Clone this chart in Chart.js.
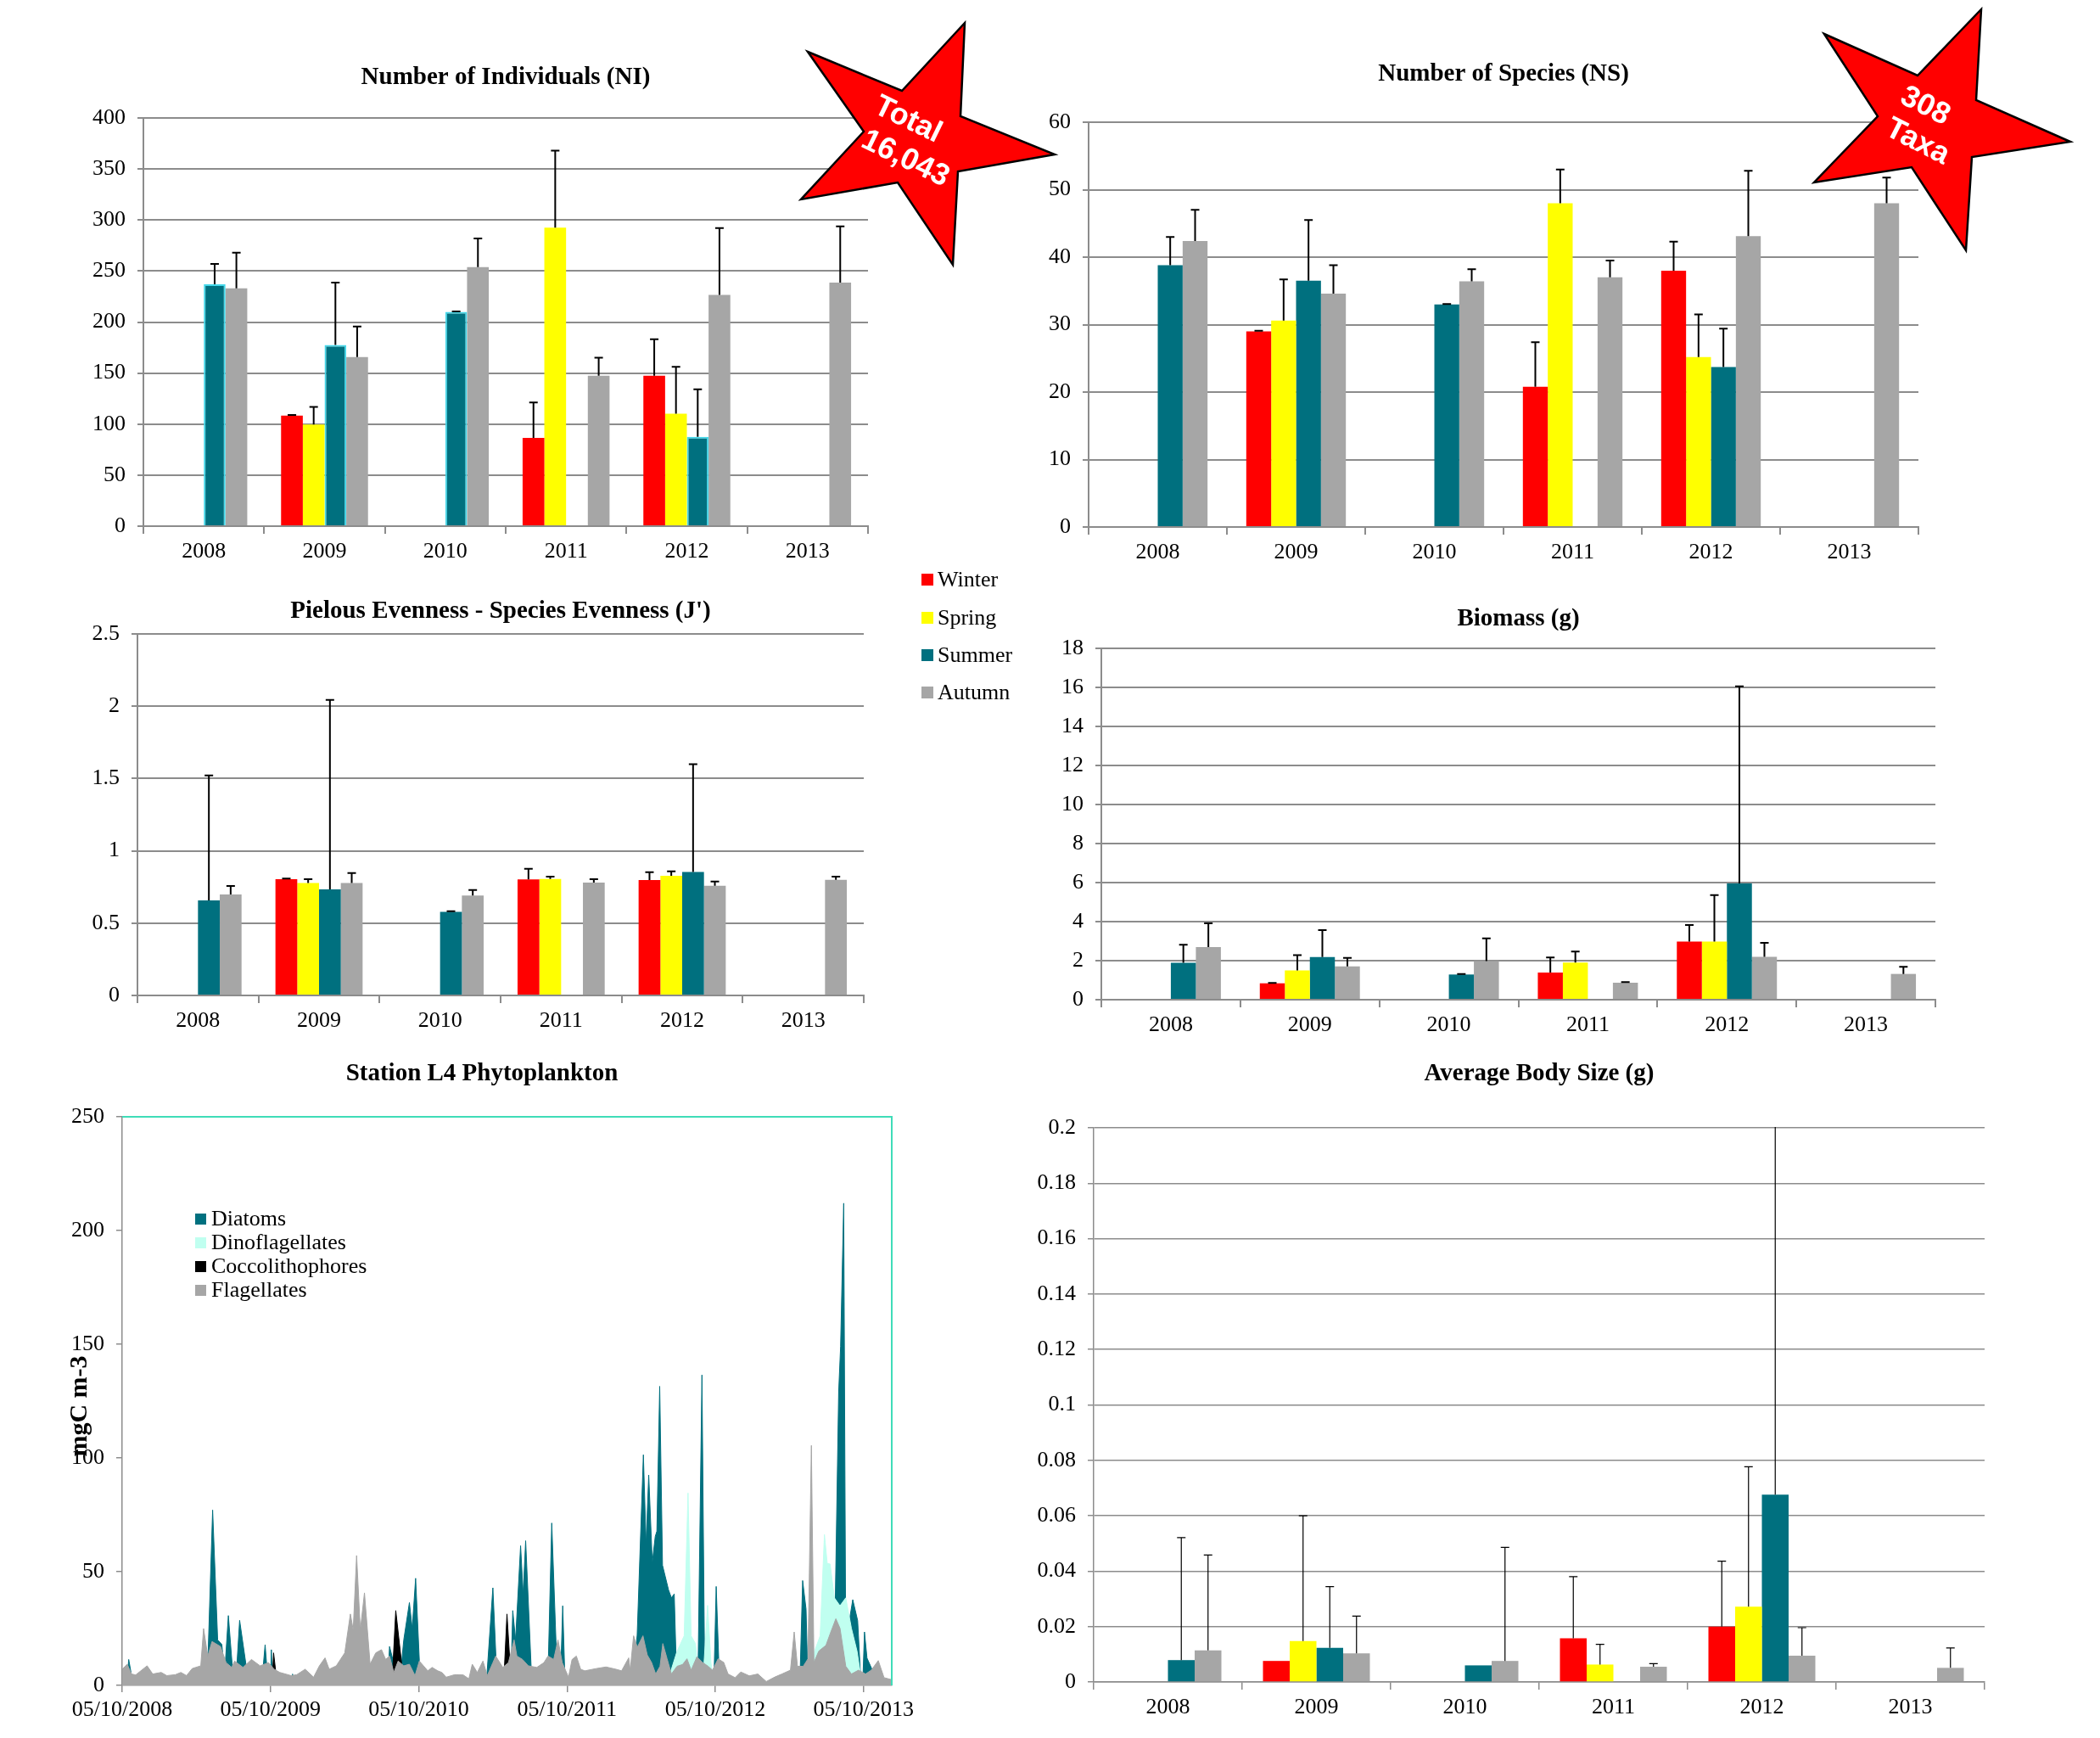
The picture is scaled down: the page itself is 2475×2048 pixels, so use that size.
<!DOCTYPE html>
<html lang="en">
<head>
<meta charset="UTF-8">
<title>Station L4 - benthic indices 2008-2013</title>
<script src="https://cdn.jsdelivr.net/npm/chart.js"></script>
<style>
    body {
        margin: 0;
        background: #fff;
        font-family: "Liberation Serif", "Times New Roman", serif;
    }

    #page {
        position: relative;
        width: 2475px;
        height: 2048px;
        overflow: hidden;
        background: #fff;
    }

    canvas {
        position: absolute;
    }

    /* legends and labels sit above the canvases */
    .legend {
        position: absolute;
        z-index: 5;
        font-size: 26px;
        color: #000;
    }

    .legend .row {
        display: flex;
        align-items: center;
        white-space: nowrap;
    }

    .legend .sw {
        display: inline-block;
        flex: none;
    }

    #seasonLegend .row { height: 44.4px; }
    #seasonLegend .sw { width: 14px; height: 14px; margin-right: 5px; }

    #phytoLegend .row { height: 28px; }
    #phytoLegend .sw { width: 13px; height: 13px; margin-right: 6px; }

    #phytoYTitle {
        position: absolute;
        z-index: 5;
        left: 92px;
        top: 1657px;
        transform: translate(-50%, -50%) rotate(-90deg);
        font-weight: bold;
        font-size: 30px;
        white-space: nowrap;
    }

    #stars {
        position: absolute;
        left: 0;
        top: 0;
        z-index: 6;
    }

    #stars text {
        font-family: "Liberation Sans", Arial, sans-serif;
        font-weight: bold;
        font-size: 36px;
        fill: #fff;
        text-anchor: middle;
        dominant-baseline: central;
    }
</style>
</head>
<body>
<div id="page">
    <canvas id="niChart"></canvas>
    <canvas id="nsChart"></canvas>
    <canvas id="jChart"></canvas>
    <canvas id="bioChart"></canvas>
    <canvas id="phytoChart"></canvas>
    <canvas id="bodyChart"></canvas>

    <div class="legend" id="seasonLegend" style="left:1086px; top:661px;"></div>
    <div class="legend" id="phytoLegend" style="left:230px; top:1422px;"></div>
    <div id="phytoYTitle">mgC m-3</div>

    <svg id="stars" width="2475" height="2048" viewBox="0 0 2475 2048">
        <polygon points="952,61 1063,107 1137,27 1132,137 1243,182 1129,202 1123,312 1058,215 944,235 1018,155"
                 fill="#ff0000" stroke="#000" stroke-width="2.5" stroke-linejoin="miter"/>
        <text transform="translate(1071,139) rotate(26)">Total</text>
        <text transform="translate(1068,185) rotate(26)">16,043</text>
        <polygon points="2150,40 2260,89 2335,11 2329,118 2440,167 2324,185 2317,295 2253,197 2138,215 2213,137"
                 fill="#ff0000" stroke="#000" stroke-width="2.5" stroke-linejoin="miter"/>
        <text transform="translate(2270,123) rotate(27)">308</text>
        <text transform="translate(2261,165) rotate(27)">Taxa</text>
    </svg>
</div>

<script>
    // ---------- data ----------
    const years = ['2008', '2009', '2010', '2011', '2012', '2013'];
    const seasons = ['Winter', 'Spring', 'Summer', 'Autumn'];

    // rows: Winter, Spring, Summer, Autumn; columns: 2008..2013 (null = no sample)
    const niMeans = [
        [null, 108.4, null, 86.4, 147.5, null],
        [null, 99.5, null, 292.5, 110.2, null],
        [237, 177.5, 210, null, 87.6, null],
        [233, 165.6, 253.8, 147.5, 226.7, 238.6]
    ];
    const niErrors = [
        [null, 0.6, null, 34.8, 35.7, null],
        [null, 17.3, null, 75.4, 45.9, null],
        [20, 61.1, 0.3, null, 46.4, null],
        [35, 30.1, 28.2, 17.5, 65.5, 55.1]
    ];

    const nsMeans = [
        [null, 29.0, null, 20.8, 38.0, null],
        [null, 30.6, null, 48.0, 25.2, null],
        [38.8, 36.5, 33.0, null, 23.7, null],
        [42.4, 34.6, 36.4, 37.0, 43.1, 48.0]
    ];
    const nsErrors = [
        [null, 0.1, null, 6.6, 4.3, null],
        [null, 6.1, null, 5.0, 6.3, null],
        [4.2, 9.0, 0.05, null, 5.7, null],
        [4.6, 4.2, 1.8, 2.5, 9.7, 3.8]
    ];

    const evennessMeans = [
        [null, 0.804, null, 0.802, 0.798, null],
        [null, 0.777, null, 0.806, 0.828, null],
        [0.658, 0.733, 0.578, null, 0.854, null],
        [0.699, 0.777, 0.691, 0.781, 0.759, 0.800]
    ];
    const evennessErrors = [
        [null, 0.004, null, 0.074, 0.054, null],
        [null, 0.027, null, 0.016, 0.030, null],
        [0.863, 1.311, 0.004, null, 0.745, null],
        [0.058, 0.069, 0.038, 0.023, 0.029, 0.022]
    ];

    const biomassMeans = [
        [null, 0.84, null, 1.39, 2.98, null],
        [null, 1.50, null, 1.90, 2.98, null],
        [1.89, 2.19, 1.29, null, 5.96, null],
        [2.70, 1.71, 1.98, 0.87, 2.20, 1.32]
    ];
    const biomassErrors = [
        [null, 0.02, null, 0.77, 0.85, null],
        [null, 0.78, null, 0.57, 2.38, null],
        [0.93, 1.37, 0.03, null, 10.09, null],
        [1.21, 0.43, 1.16, 0.03, 0.71, 0.37]
    ];

    const bodySizeMeans = [
        [null, 0.0076, null, 0.0158, 0.0200, null],
        [null, 0.0148, null, 0.0063, 0.0272, null],
        [0.0079, 0.0123, 0.0060, null, 0.0676, null],
        [0.0114, 0.0103, 0.0076, 0.0055, 0.0095, 0.0051]
    ];
    const bodySizeErrors = [
        [null, null, null, 0.0222, 0.0236, null],
        [null, 0.0452, null, 0.0073, 0.0505, null],
        [0.0442, 0.0221, null, null, 0.16, null],
        [0.0344, 0.0135, 0.0410, 0.0011, 0.0101, 0.0072]
    ];

    // phytoplankton: [years since 05/10/2008, mgC m-3]
    const dateLabels = ['05/10/2008', '05/10/2009', '05/10/2010', '05/10/2011', '05/10/2012', '05/10/2013'];

    const flagellates = [
        [0.000, 7.1], [0.034, 9.3], [0.063, 5.0], [0.091, 4.6], [0.168, 8.6], [0.206, 5.0], [0.263, 5.7],
        [0.301, 4.3], [0.358, 4.7], [0.396, 5.7], [0.434, 4.3], [0.472, 7.4], [0.530, 8.6], [0.549, 25.0],
        [0.577, 12.9], [0.606, 19.3], [0.663, 17.1], [0.701, 10.0], [0.739, 7.9], [0.758, 10.7], [0.815, 7.9],
        [0.872, 11.4], [0.930, 8.6], [0.987, 10.0], [1.025, 7.1], [1.063, 5.7], [1.139, 4.3], [1.177, 4.7],
        [1.234, 7.1], [1.291, 3.6], [1.330, 8.6], [1.368, 12.1], [1.396, 7.1], [1.444, 8.6], [1.501, 14.3],
        [1.539, 31.4], [1.558, 24.3], [1.581, 57.1], [1.606, 24.3], [1.634, 40.7], [1.672, 9.3], [1.710, 14.3],
        [1.749, 15.7], [1.777, 11.4], [1.803, 12.9], [1.832, 5.7], [1.861, 10.7], [1.899, 8.6], [1.937, 9.3],
        [1.975, 4.3], [2.004, 10.7], [2.032, 8.6], [2.061, 6.4], [2.090, 7.9], [2.128, 6.4], [2.156, 5.7],
        [2.185, 3.6], [2.242, 4.7], [2.300, 4.6], [2.338, 2.9], [2.361, 9.3], [2.395, 5.7], [2.433, 10.7],
        [2.462, 4.3], [2.500, 10.0], [2.519, 12.9], [2.567, 7.9], [2.605, 10.0], [2.643, 20.0], [2.662, 12.9],
        [2.700, 11.4], [2.739, 8.6], [2.796, 7.9], [2.844, 10.0], [2.872, 12.9], [2.910, 11.4], [2.939, 20.0],
        [2.968, 10.0], [3.010, 3.6], [3.034, 11.4], [3.063, 12.9], [3.092, 7.1], [3.120, 6.4], [3.197, 7.4],
        [3.263, 8.1], [3.330, 7.1], [3.368, 6.4], [3.416, 12.1], [3.426, 6.7], [3.449, 21.8], [3.474, 16.8],
        [3.512, 21.8], [3.541, 13.4], [3.570, 10.1], [3.598, 5.0], [3.627, 8.4], [3.646, 18.4], [3.675, 11.7],
        [3.704, 5.0], [3.742, 8.4], [3.780, 9.2], [3.809, 11.7], [3.837, 6.7], [3.876, 12.6], [3.914, 10.1],
        [3.952, 8.4], [3.981, 6.7], [4.019, 11.7], [4.057, 10.1], [4.086, 5.0], [4.134, 3.4], [4.172, 5.9],
        [4.229, 4.2], [4.287, 5.0], [4.344, 1.7], [4.402, 3.7], [4.449, 5.0], [4.507, 6.7], [4.532, 23.5],
        [4.554, 8.4], [4.593, 8.4], [4.625, 11.7], [4.648, 105.5], [4.665, 10.1], [4.698, 15.1], [4.746, 17.6],
        [4.774, 22.6], [4.813, 29.3], [4.841, 25.1], [4.880, 8.4], [4.918, 5.0], [4.966, 6.7], [5.013, 5.0],
        [5.052, 6.7], [5.099, 10.9], [5.138, 3.4], [5.190, 2.5]
    ];

    const coccolithophores = [
        [0.000, 0], [1.010, 0], [1.021, 14.3], [1.034, 7], [1.045, 0], [1.810, 0], [1.823, 5], [1.845, 32.9],
        [1.889, 7], [1.900, 0], [2.570, 0], [2.576, 5], [2.595, 31.4], [2.615, 10], [2.625, 0], [3.965, 0],
        [3.975, 6], [3.985, 0], [5.190, 0]
    ];

    const dinoflagellates = [
        [0.000, 0], [3.675, 0], [3.694, 5], [3.742, 15], [3.790, 21.8], [3.816, 84.6], [3.837, 21.8],
        [3.866, 18.4], [3.895, 0], [3.924, 10], [3.948, 35.2], [3.971, 10], [3.990, 0], [4.650, 0],
        [4.669, 15], [4.707, 21.8], [4.736, 66.3], [4.755, 53.6], [4.774, 53.4], [4.803, 38.5], [4.841, 35],
        [4.880, 38.5], [4.918, 25.1], [4.956, 15], [4.979, 5], [4.994, 0], [5.190, 0]
    ];

    const diatoms = [
        [0.000, 0], [0.030, 0], [0.044, 11.4], [0.075, 0], [0.540, 0], [0.580, 15], [0.610, 77.1],
        [0.644, 20], [0.672, 18], [0.691, 5], [0.716, 30.7], [0.743, 8], [0.770, 5], [0.792, 28.6],
        [0.844, 5], [0.940, 0], [0.964, 17.9], [0.985, 0], [1.000, 0], [1.006, 15.7], [1.015, 0],
        [1.140, 0], [1.149, 5], [1.160, 0], [1.450, 0], [1.463, 10], [1.475, 0], [1.790, 0], [1.803, 17.1],
        [1.870, 0], [1.899, 20], [1.937, 36.4], [1.956, 25], [1.979, 47.1], [2.004, 11], [2.015, 0],
        [2.455, 0], [2.500, 42.9], [2.529, 0], [2.620, 0], [2.634, 32.9], [2.653, 20], [2.687, 61.4],
        [2.704, 40], [2.721, 63.6], [2.758, 8], [2.780, 0], [2.870, 0], [2.897, 71.4], [2.929, 12.9],
        [2.955, 0], [2.971, 35], [2.987, 0], [3.440, 0], [3.473, 22], [3.515, 101.4], [3.533, 62],
        [3.551, 92.5], [3.575, 54], [3.595, 65.5], [3.606, 67.8], [3.625, 131.5], [3.644, 52.8],
        [3.685, 41.9], [3.704, 38.5], [3.723, 40.2], [3.736, 10], [3.761, 0], [3.875, 0], [3.885, 13],
        [3.910, 136.5], [3.927, 13], [3.945, 0], [3.990, 0], [4.006, 43.5], [4.023, 11.7], [4.048, 0],
        [4.570, 0], [4.589, 46.1], [4.612, 33.5], [4.625, 0], [4.800, 0], [4.832, 129.1], [4.845, 149],
        [4.866, 212], [4.879, 25.1], [4.908, 30], [4.927, 37.7], [4.960, 28.5], [4.979, 5], [4.994, 0],
        [5.006, 23.5], [5.023, 12], [5.071, 5], [5.090, 0], [5.190, 0]
    ];

    // ---------- styles ----------
    const seasonColors = ['#ff0000', '#ffff00', '#00707f', '#a6a6a6'];
    const phytoColors = { Diatoms: '#00707f', Dinoflagellates: '#c0fff0', Coccolithophores: '#000000', Flagellates: '#a6a6a6' };
    const GRID = '#8c8c8c';
    const X_AXIS_H = 60;
    const TITLE_SIZE = 29;
    const TITLE_HALF = TITLE_SIZE * 1.2 / 2;

    Chart.defaults.font.family = '"Liberation Serif", "Times New Roman", serif';
    Chart.defaults.font.size = 26;
    Chart.defaults.color = '#000';
    Chart.defaults.animation = false;
    Chart.defaults.plugins.legend.display = false;
    Chart.defaults.plugins.tooltip.enabled = false;

    // place a canvas so that its plotting area lands on `plot` = [left, top, right, bottom]
    function frame(id, plot, title, yAxisW) {
        const [L, T, R, B] = plot;
        const x0 = Math.round(L - 140), y0 = Math.round(title[1] - 40);
        const w = Math.round(R + 80 - x0), h = Math.round(B + 90 - y0);
        const c = document.getElementById(id);
        c.width = w;
        c.height = h;
        c.style.left = x0 + 'px';
        c.style.top = y0 + 'px';
        c.style.width = w + 'px';
        c.style.height = h + 'px';
        return {
            padding: { left: L - x0 - yAxisW, top: title[1] - TITLE_HALF - y0, right: x0 + w - R, bottom: y0 + h - B - X_AXIS_H },
            titlePadding: { top: 0, bottom: T - title[1] - TITLE_HALF }
        };
    }

    const fmt = v => String(Math.round(v * 1000) / 1000);

    // whiskers above each bar (mean + SD), capped
    const errorBars = {
        id: 'errorBars',
        afterDatasetsDraw(chart, args, opts) {
            const { ctx, chartArea } = chart;
            const y = chart.scales.y;
            ctx.save();
            ctx.beginPath();
            ctx.rect(chartArea.left, chartArea.top - 1, chartArea.right - chartArea.left, chartArea.bottom - chartArea.top + 1);
            ctx.clip();
            ctx.strokeStyle = '#000';
            ctx.lineWidth = opts.width;
            chart.data.datasets.forEach((ds, i) => {
                const meta = chart.getDatasetMeta(i);
                meta.data.forEach((bar, j) => {
                    const v = ds.data[j], e = ds.errors[j];
                    if (v == null || e == null) return;
                    const top = y.getPixelForValue(v + e);
                    ctx.beginPath();
                    ctx.moveTo(bar.x, bar.y);
                    ctx.lineTo(bar.x, top);
                    ctx.moveTo(bar.x - opts.cap, top);
                    ctx.lineTo(bar.x + opts.cap, top);
                    ctx.stroke();
                });
            });
            ctx.restore();
        }
    };

    function barChart(id, plot, title, text, max, step, means, errors, opt) {
        const lay = frame(id, plot, title, 70);
        const datasets = seasons.map((s, i) => ({
            label: s,
            data: means[i],
            errors: errors[i],
            backgroundColor: seasonColors[i],
            borderColor: (opt.summerEdge && i === 2) ? '#44d8ea' : seasonColors[i],
            borderWidth: (opt.summerEdge && i === 2) ? 2 : 0,
            barPercentage: 1,
            categoryPercentage: 0.72
        }));
        return new Chart(document.getElementById(id), {
            type: 'bar',
            data: { labels: years, datasets },
            plugins: [errorBars],
            options: {
                responsive: false,
                layout: { padding: lay.padding },
                plugins: {
                    title: {
                        display: true, text, fullSize: false, color: '#000',
                        font: { size: TITLE_SIZE, weight: 'bold' }, padding: lay.titlePadding
                    },
                    errorBars: { width: opt.errWidth, cap: 5 }
                },
                scales: {
                    x: {
                        afterFit: s => { s.height = X_AXIS_H; },
                        grid: { offset: true, drawOnChartArea: false, tickLength: 9, color: GRID, lineWidth: opt.gridWidth },
                        border: { color: GRID, width: opt.gridWidth },
                        ticks: { padding: 6, maxRotation: 0 }
                    },
                    y: {
                        min: 0, max,
                        afterFit: s => { s.width = 70; },
                        grid: { color: GRID, lineWidth: opt.gridWidth, tickLength: 7 },
                        border: { color: GRID, width: opt.gridWidth },
                        ticks: { stepSize: step, padding: 14, callback: fmt }
                    }
                }
            }
        });
    }

    barChart('niChart', [169, 139, 1023, 620], [593, 92], 'Number of Individuals (NI)', 400, 50,
        niMeans, niErrors, { errWidth: 2, gridWidth: 2, summerEdge: true });
    barChart('nsChart', [1283, 144, 2261, 621], [1780, 88], 'Number of Species (NS)', 60, 10,
        nsMeans, nsErrors, { errWidth: 2, gridWidth: 2 });
    barChart('jChart', [162, 747, 1018, 1173], [595, 721], "Pielous Evenness - Species Evenness (J')", 2.5, 0.5,
        evennessMeans, evennessErrors, { errWidth: 2, gridWidth: 2 });
    barChart('bioChart', [1298, 764, 2281, 1178], [1798, 730], 'Biomass (g)', 18, 2,
        biomassMeans, biomassErrors, { errWidth: 2, gridWidth: 2 });
    barChart('bodyChart', [1289, 1329, 2339, 1982], [1814, 1266], 'Average Body Size (g)', 0.2, 0.02,
        bodySizeMeans, bodySizeErrors, { errWidth: 1.2, gridWidth: 1.5 });

    // ---------- phytoplankton areas ----------
    const plotFrame = {
        id: 'plotFrame',
        afterDraw(chart) {
            const { ctx, chartArea: a } = chart;
            ctx.save();
            ctx.strokeStyle = '#3fdcb8';
            ctx.lineWidth = 2;
            ctx.beginPath();
            ctx.moveTo(a.left, a.top);
            ctx.lineTo(a.right, a.top);
            ctx.lineTo(a.right, a.bottom);
            ctx.stroke();
            ctx.restore();
        }
    };

    const phytoPlot = [144, 1316, 1051, 1986], phytoTitle = [568, 1266];
    const phytoLay = frame('phytoChart', phytoPlot, phytoTitle, phytoPlot[0] + phytoPlot[2] - 2 * phytoTitle[0]);
    const toXY = arr => arr.map(([x, y]) => ({ x, y }));
    // first dataset is painted last, so flagellates sit in front
    const phytoSeries = [
        ['Flagellates', flagellates],
        ['Coccolithophores', coccolithophores],
        ['Dinoflagellates', dinoflagellates],
        ['Diatoms', diatoms]
    ];

    new Chart(document.getElementById('phytoChart'), {
        type: 'line',
        data: {
            datasets: phytoSeries.map(([name, arr]) => ({
                label: name,
                data: toXY(arr),
                backgroundColor: phytoColors[name],
                borderColor: phytoColors[name],
                borderWidth: 1,
                fill: 'origin',
                tension: 0,
                pointRadius: 0
            }))
        },
        plugins: [plotFrame],
        options: {
            responsive: false,
            layout: { padding: phytoLay.padding },
            plugins: {
                title: {
                    display: true, text: 'Station L4 Phytoplankton', fullSize: true, color: '#000',
                    font: { size: TITLE_SIZE, weight: 'bold' }, padding: phytoLay.titlePadding
                }
            },
            scales: {
                x: {
                    type: 'linear', min: 0, max: 5.19,
                    afterFit: s => { s.height = X_AXIS_H; },
                    afterBuildTicks: axis => { axis.ticks = dateLabels.map((_, i) => ({ value: i })); },
                    grid: { drawOnChartArea: false, tickLength: 8, color: GRID, lineWidth: 1.5 },
                    border: { color: GRID, width: 1.5 },
                    ticks: { padding: 6, maxRotation: 0, autoSkip: false, callback: (v, i) => dateLabels[i] }
                },
                y: {
                    min: 0, max: 250,
                    afterFit: s => { s.width = phytoPlot[0] + phytoPlot[2] - 2 * phytoTitle[0]; },
                    grid: { drawOnChartArea: false, tickLength: 7, color: GRID, lineWidth: 1.5 },
                    border: { color: GRID, width: 1.5 },
                    ticks: { stepSize: 50, padding: 14 }
                }
            }
        }
    });

    // ---------- html legends ----------
    function fillLegend(id, names, colors) {
        const box = document.getElementById(id);
        names.forEach((n, i) => {
            const row = document.createElement('div');
            row.className = 'row';
            row.innerHTML = '<span class="sw" style="background:' + colors[i] + '"></span><span>' + n + '</span>';
            box.appendChild(row);
        });
    }

    fillLegend('seasonLegend', seasons, seasonColors);
    const phytoNames = ['Diatoms', 'Dinoflagellates', 'Coccolithophores', 'Flagellates'];
    fillLegend('phytoLegend', phytoNames, phytoNames.map(n => phytoColors[n]));
</script>
</body>
</html>
